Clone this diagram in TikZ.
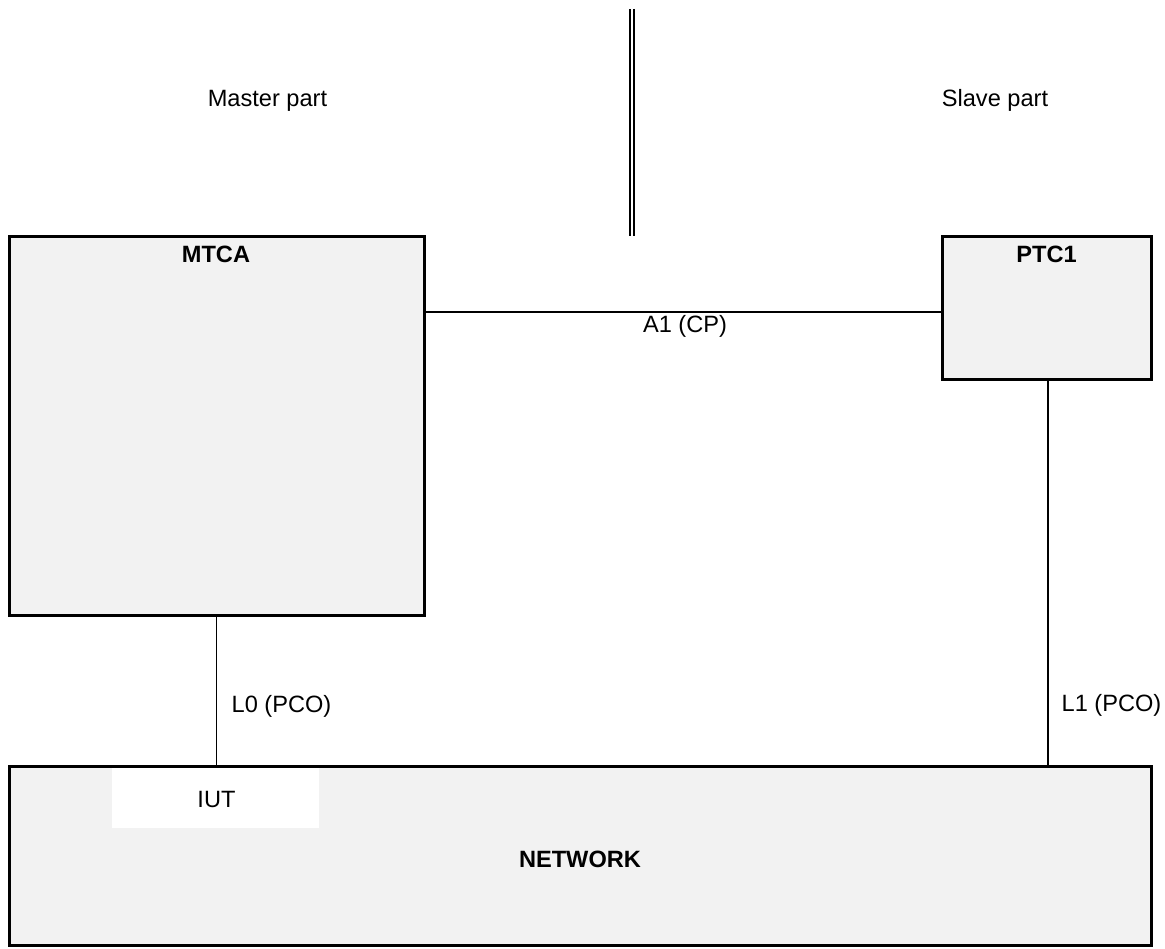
\documentclass[tikz,border=0pt]{standalone}
\usepackage{fontspec}
\setmainfont{Liberation Sans}
\definecolor{boxgray}{RGB}{242,242,242}
\begin{document}
\begin{tikzpicture}[x=1pt,y=-1pt,
  every node/.style={font=\fontsize{23.6}{28}\selectfont},
  block/.style={draw=black, fill=boxgray, line width=3pt, inner sep=0pt, rectangle},
  txt/.style={anchor=base, inner sep=0pt},
  btxt/.style={anchor=base, inner sep=0pt, font=\fontsize{23.6}{28}\selectfont\bfseries},
  link/.style={line width=1.2pt}
]
\useasboundingbox (0,0) rectangle (1165,949);
\fill[white] (0,0) rectangle (1165,949);

% boxes
\node[block, minimum width=415pt, minimum height=378pt] (mtca) at (216.5,426) {};
\node[block, minimum width=209pt, minimum height=143pt] (ptc1) at (1047,308) {};
\node[block, minimum width=1142pt, minimum height=179pt] (net) at (580,855.5) {};
\node[fill=white, inner sep=0pt, minimum width=207pt, minimum height=60pt] (iutbox) at (215.5,798) {};

% texts
\node[btxt] (tmtca) at (216,263) {MTCA};
\node[btxt] (tptc1) at (1046.5,263) {PTC1};
\node[btxt] (tnet) at (580,867) {NETWORK};
\node[txt] (tiut) at (216.5,807) {IUT};
\node[txt] (master) at (267.5,107) {Master part};
\node[txt] (slave) at (995,107) {Slave part};
\node[txt] (ta1) at (685,333) {A1 (CP)};
\node[txt] (tl0) at (281.5,712) {L0 (PCO)};
\node[txt] (tl1) at (1111.5,711) {L1 (PCO)};

% divider
\coordinate (divtop) at (631.5,9);
\coordinate (divbot) at (631.5,236);
\draw[line width=2pt, double=white, double distance=2pt] (divtop) -- (divbot);

% connectors
\coordinate (a1) at (mtca.east |- 0,312);
\draw[link] (a1) -- (a1 -| ptc1.west);
\draw[link] (mtca.south) -- (mtca.south |- net.north);
\coordinate (l1top) at (1048,0 |- ptc1.south);
\draw[link] (l1top) -- (l1top |- net.north);
\end{tikzpicture}
\end{document}
